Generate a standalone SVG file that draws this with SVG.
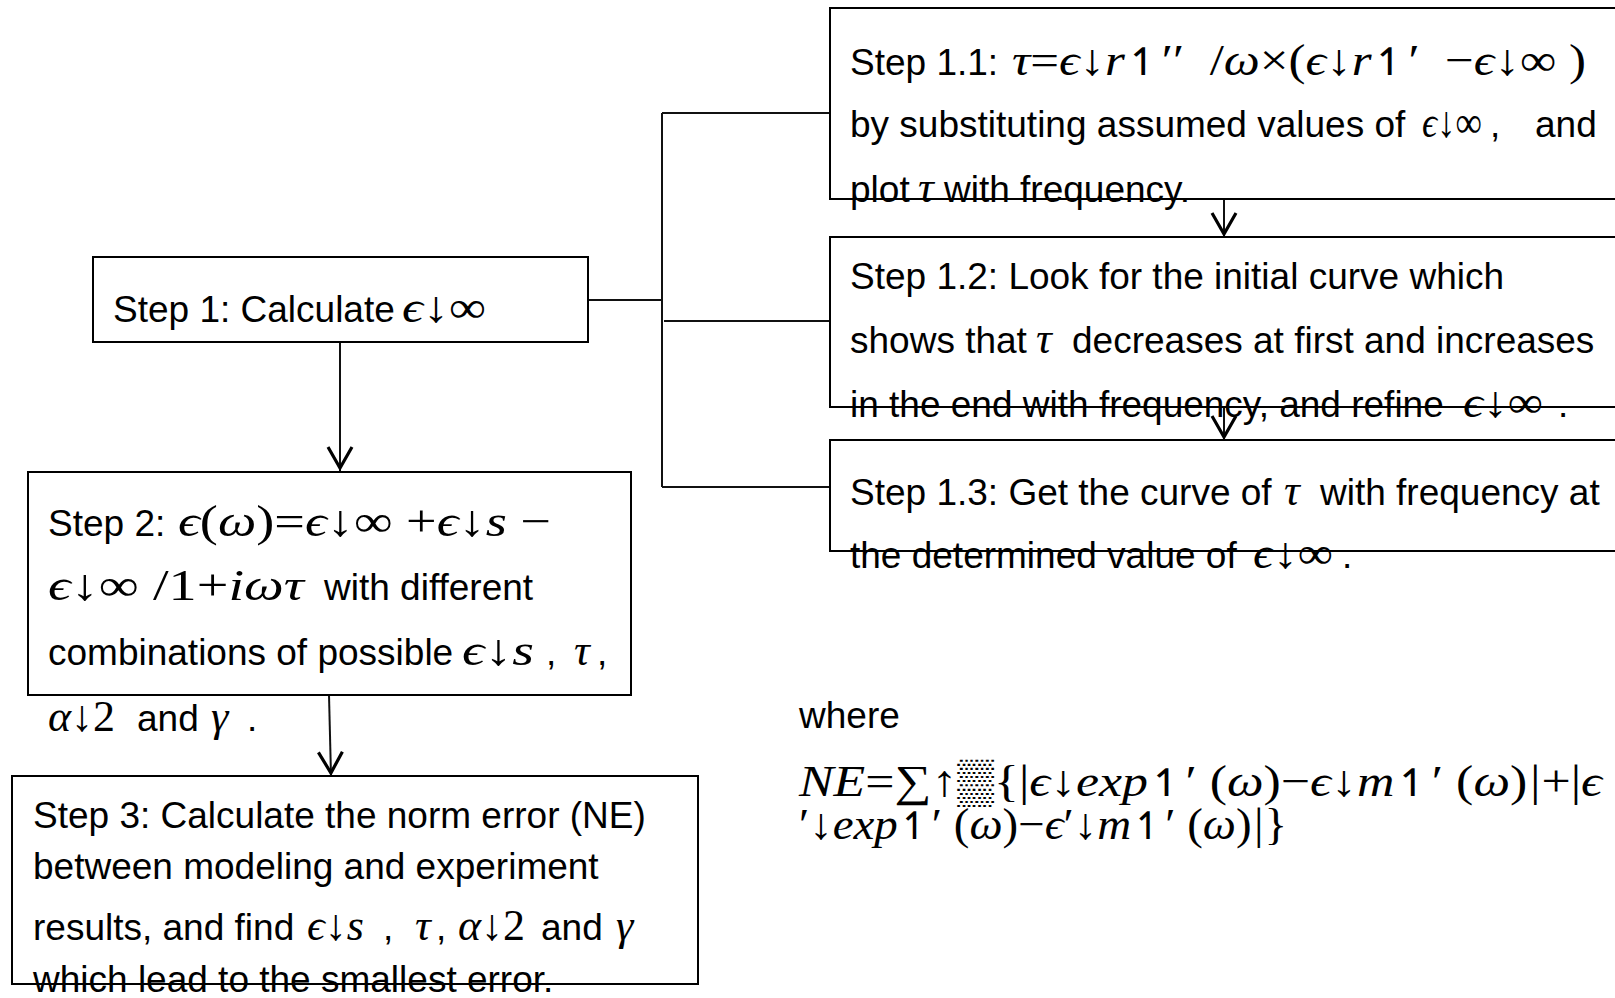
<svg xmlns="http://www.w3.org/2000/svg" width="1615" height="998" viewBox="0 0 1615 998">
<defs>
<style>
.box{fill:none;stroke:#000;stroke-width:2}
.c{fill:none;stroke:#111;stroke-width:2}
.t{font-family:"Liberation Sans",Arial,sans-serif;font-size:37px;fill:#000}
.m{font-family:"Liberation Serif","DejaVu Serif","DejaVu Sans",serif;font-style:italic;font-size:44px;fill:#000}
.u{font-style:normal}
.h{font-family:"DejaVu Sans",sans-serif;font-style:normal;font-size:38px}
</style>
<marker id="arr" markerUnits="userSpaceOnUse" markerWidth="30" markerHeight="30" viewBox="-28 -14 30 28" refX="0" refY="0" orient="auto" overflow="visible">
<path d="M-24,-12 L-3,0 L-24,12" fill="none" stroke="#000" stroke-width="3.2"/>
</marker>
</defs>
<rect width="1615" height="998" fill="#fff"/>
<g id="connectors">
<path class="c" d="M588,300 H662"/>
<path class="c" d="M662,113 V487"/>
<path class="c" d="M662,113 H830"/>
<path class="c" d="M664,321 H830"/>
<path class="c" d="M662,487 H830"/>
<path class="c" d="M1224,199 V237" marker-end="url(#arr)"/>
<path class="c" d="M1224,407 V440" marker-end="url(#arr)"/>
<path class="c" d="M340,342 V471" marker-end="url(#arr)"/>
<path class="c" d="M329,695 L331,776" marker-end="url(#arr)"/>
</g>
<g id="step1">
<rect class="box" x="93" y="257" width="495" height="85"/>
<text class="t" x="113" y="322">Step 1: Calculate</text>
<text class="m" x="402" y="322" textLength="84" lengthAdjust="spacingAndGlyphs">ϵ<tspan class="u">↓∞</tspan></text>
</g>
<g id="step1_1">
<rect class="box" x="830" y="8" width="800" height="191"/>
<text class="t" x="850" y="75">Step 1.1:</text>
<text class="m" x="1012" y="75" textLength="574" lengthAdjust="spacingAndGlyphs">τ<tspan class="u">=</tspan>ϵ<tspan class="u">↓</tspan>r<tspan class="h">↿</tspan><tspan class="u">′′&#160;&#160;/</tspan>ω<tspan class="u">×(</tspan>ϵ<tspan class="u">↓</tspan>r<tspan class="h">↿</tspan><tspan class="u">′&#160;&#160;−</tspan>ϵ<tspan class="u">↓∞&#160;)</tspan></text>
<text class="t" x="850" y="137">by substituting assumed values of</text>
<text class="m" x="1422" y="137" textLength="60" lengthAdjust="spacingAndGlyphs">ϵ<tspan class="u">↓∞</tspan></text>
<text class="t" x="1490" y="137">,</text>
<text class="t" x="1535" y="137">and</text>
<text class="t" x="850" y="202">plot</text>
<text class="m" x="918" y="202">τ</text>
<text class="t" x="944" y="202">with frequency.</text>
</g>
<g id="step1_2">
<rect class="box" x="830" y="237" width="800" height="170"/>
<text class="t" x="850" y="289">Step 1.2: Look for the initial curve which</text>
<text class="t" x="850" y="353">shows that</text>
<text class="m" x="1036" y="353">τ</text>
<text class="t" x="1072" y="353">decreases at first and increases</text>
<text class="t" x="850" y="417">in the end with frequency, and refine</text>
<text class="m" x="1463" y="417" textLength="80" lengthAdjust="spacingAndGlyphs">ϵ<tspan class="u">↓∞</tspan></text>
<text class="t" x="1558" y="417">.</text>
</g>
<g id="step1_3">
<rect class="box" x="830" y="440" width="800" height="111"/>
<text class="t" x="850" y="505">Step 1.3: Get the curve of</text>
<text class="m" x="1284" y="505">τ</text>
<text class="t" x="1320" y="505">with frequency at</text>
<text class="t" x="850" y="568">the determined value of</text>
<text class="m" x="1253" y="568" textLength="80" lengthAdjust="spacingAndGlyphs">ϵ<tspan class="u">↓∞</tspan></text>
<text class="t" x="1342" y="568">.</text>
</g>
<g id="step2">
<rect class="box" x="28" y="472" width="603" height="223"/>
<text class="t" x="48" y="536">Step 2:</text>
<text class="m" x="178" y="536" textLength="373" lengthAdjust="spacingAndGlyphs">ϵ<tspan class="u">(</tspan>ω<tspan class="u">)=</tspan>ϵ<tspan class="u">↓∞ +</tspan>ϵ<tspan class="u">↓</tspan>s<tspan class="u"> −</tspan></text>
<text class="m" x="48" y="600" textLength="256" lengthAdjust="spacingAndGlyphs">ϵ<tspan class="u">↓∞ /1+</tspan>iωτ</text>
<text class="t" x="324" y="600">with different</text>
<text class="t" x="48" y="665">combinations of possible</text>
<text class="m" x="462" y="665" textLength="72" lengthAdjust="spacingAndGlyphs">ϵ<tspan class="u">↓</tspan>s</text>
<text class="t" x="546" y="665">,</text>
<text class="m" x="574" y="665">τ</text>
<text class="t" x="597" y="665">,</text>
<text class="m" x="48" y="731">α<tspan class="u">↓2</tspan></text>
<text class="t" x="137" y="731">and</text>
<text class="m" x="211" y="731">γ</text>
<text class="t" x="247" y="731">.</text>
</g>
<g id="step3">
<rect class="box" x="12" y="776" width="686" height="208"/>
<text class="t" x="33" y="828">Step 3: Calculate the norm error (NE)</text>
<text class="t" x="33" y="879">between modeling and experiment</text>
<text class="t" x="33" y="940">results, and find</text>
<text class="m" x="307" y="940">ϵ<tspan class="u">↓</tspan>s</text>
<text class="t" x="383" y="940">,</text>
<text class="m" x="415" y="940">τ</text>
<text class="t" x="436" y="940">,</text>
<text class="m" x="458" y="940">α<tspan class="u">↓2</tspan></text>
<text class="t" x="541" y="940">and</text>
<text class="m" x="616" y="940">γ</text>
<text class="t" x="33" y="992">which lead to the smallest error.</text>
</g>
<g id="where">
<text class="t" x="799" y="728">where</text>
<text class="m" x="799" y="796" textLength="803" lengthAdjust="spacingAndGlyphs">NE<tspan class="u">=∑↑▒{|</tspan>ϵ<tspan class="u">↓</tspan>exp<tspan class="h">↿</tspan><tspan class="u">′ (</tspan>ω<tspan class="u">)−</tspan>ϵ<tspan class="u">↓</tspan>m<tspan class="h">↿</tspan><tspan class="u">′ (</tspan>ω<tspan class="u">)</tspan>|<tspan class="u">+|</tspan>ϵ</text>
<text class="m" x="799" y="839" textLength="488" lengthAdjust="spacingAndGlyphs"><tspan class="u">′↓</tspan>exp<tspan class="h">↿</tspan><tspan class="u">′ (</tspan>ω<tspan class="u">)−</tspan>ϵ<tspan class="u">′↓</tspan>m<tspan class="h">↿</tspan><tspan class="u">′ (</tspan>ω<tspan class="u">)</tspan>|<tspan class="u">}</tspan></text>
</g>
</svg>
